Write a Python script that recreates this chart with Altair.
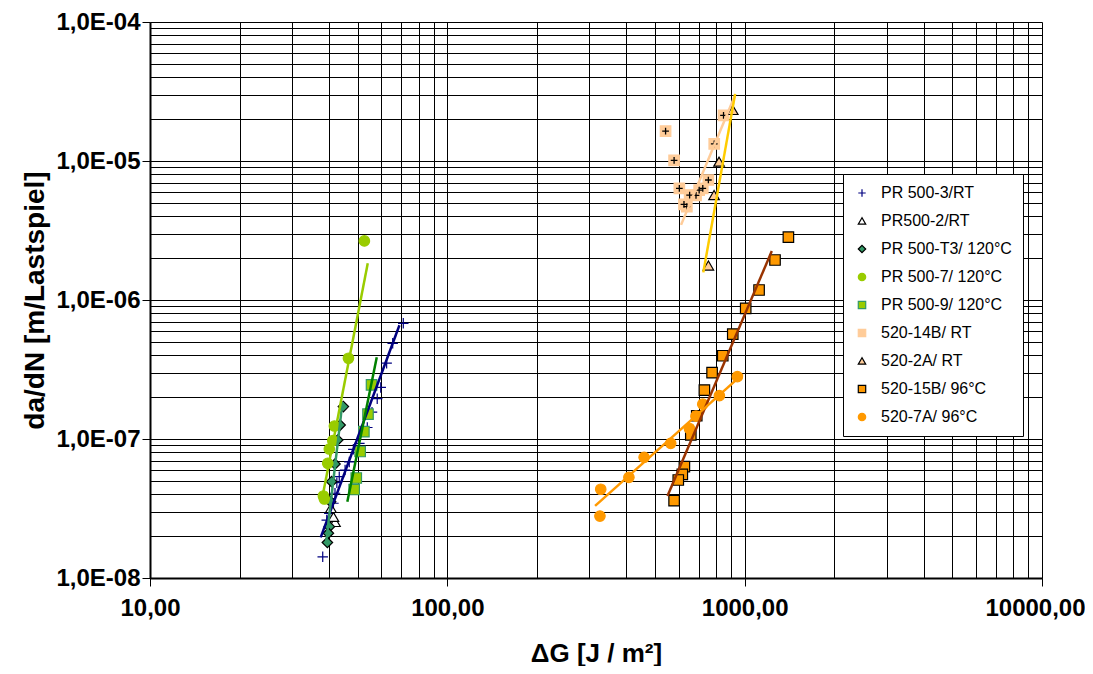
import altair as alt
import pandas as pd

# ---------------- data ----------------
series_names = ["PR 500-3/RT", "PR500-2/RT", "PR 500-T3/ 120°C", "PR 500-7/ 120°C",
                "PR 500-9/ 120°C", "520-14B/ RT", "520-2A/ RT", "520-15B/ 96°C", "520-7A/ 96°C"]

pr500_3_x = [71.1, 65.5, 62.5, 59.7, 58.1, 55.8, 53.8, 50.6, 48.3, 46.8, 45.3, 43.3, 42.5, 41.9, 41.4, 40.1, 39.3, 38.1]
pr500_3_y = [6.8e-7, 4.88e-7, 3.51e-7, 2.35e-7, 1.95e-7, 1.56e-7, 1.21e-7, 9.3e-8, 8.43e-8, 6.84e-8,
             5.98e-8, 5.36e-8, 4.85e-8, 4.07e-8, 3.45e-8, 2.92e-8, 2.61e-8, 1.42e-8]

pr500_2_x = [41.9, 41.4, 40.6]
pr500_2_y = [2.53e-8, 2.75e-8, 3.19e-8]

pr500_t3_x = [44.7, 43.6, 42.8, 41.9, 40.8, 40.5, 40.1, 39.8, 39.5]
pr500_t3_y = [1.71e-7, 1.26e-7, 9.84e-8, 6.61e-8, 4.93e-8, 3.54e-8, 2.34e-8, 2.10e-8, 1.80e-8]

pr500_7_x = [52.6, 46.5, 41.7, 41.2, 40.1, 39.6, 38.3, 38.6]
pr500_7_y = [2.66e-6, 3.81e-7, 1.24e-7, 9.72e-8, 8.47e-8, 6.69e-8, 3.89e-8, 3.70e-8]

pr500_9_x = [55.6, 54.1, 52.4, 50.9, 49.4, 48.6]
pr500_9_y = [2.45e-7, 1.51e-7, 1.13e-7, 8.13e-8, 5.24e-8, 4.33e-8]

s520_14b_x = [542, 579, 603, 653, 625, 639, 686, 703, 723, 755, 790, 849]
s520_14b_y = [1.64e-5, 1.01e-5, 6.36e-6, 5.69e-6, 4.88e-6, 4.69e-6, 5.65e-6, 6.18e-6, 6.36e-6, 7.30e-6, 1.33e-5, 2.13e-5]

s520_2a_x = [912, 820, 789, 755]
s520_2a_y = [2.33e-5, 9.89e-6, 5.69e-6, 1.77e-6]

s520_15b_x = [1403, 1265, 1118, 1008, 912, 844, 777, 732, 690, 659, 627, 617, 598, 579]
s520_15b_y = [2.83e-6, 1.94e-6, 1.18e-6, 8.71e-7, 5.69e-7, 3.97e-7, 3.00e-7, 2.25e-7, 1.47e-7, 1.07e-7,
              6.32e-8, 5.57e-8, 5.07e-8, 3.60e-8]

s520_7a_x = [945, 822, 723, 686, 652, 564, 459, 408, 328, 326]
s520_7a_y = [2.81e-7, 2.05e-7, 1.78e-7, 1.46e-7, 1.19e-7, 9.31e-8, 7.39e-8, 5.30e-8, 4.35e-8, 2.79e-8]

# trend lines (power fits as drawn in the picture): start/end points
trend_names = ["PR 500-3/RT", "PR 500-T3/ 120°C", "PR 500-7/ 120°C", "PR 500-9/ 120°C",
               "520-14B/ RT", "520-2A/ RT", "520-15B/ 96°C", "520-7A/ 96°C"]
trend_x_start = [37.5, 39.1, 37.8, 46.1, 611, 726, 550, 314]
trend_x_end = [69.0, 44.4, 54.0, 57.9, 926, 929, 1234, 985]
trend_y_start = [1.96e-8, 1.79e-8, 3.59e-8, 3.54e-8, 3.47e-6, 1.58e-6, 3.89e-8, 3.30e-8]
trend_y_end = [6.58e-7, 1.85e-7, 1.84e-6, 3.87e-7, 2.94e-5, 3.04e-5, 2.25e-6, 2.93e-7]

# ---------------- styles ----------------
PLUS = "M-1,0H1M0,-1V1"
marker_shapes = [PLUS, "triangle-up", "diamond", "circle", "square", "square", "triangle-up", "square", "circle"]
marker_fills = ["#000080", "#FFFFFF", "#339966", "#99CC00", "#99CC00", "#FFCC99", "#FFCC99", "#FF9900", "#FF9900"]
marker_strokes = ["#000080", "#000000", "#000000", "#99CC00", "#339966", "#FFCC99", "#000000", "#000000", "#FF9900"]
trend_colors = ["#000080", "#339966", "#99CC00", "#008000", "#FFCC99", "#FFCC00", "#993300", "#FF9900"]

FONT = "Liberation Sans, Arial, sans-serif"

# ---------------- tables ----------------
xs = [pr500_3_x, pr500_2_x, pr500_t3_x, pr500_7_x, pr500_9_x, s520_14b_x, s520_2a_x, s520_15b_x, s520_7a_x]
ys = [pr500_3_y, pr500_2_y, pr500_t3_y, pr500_7_y, pr500_9_y, s520_14b_y, s520_2a_y, s520_15b_y, s520_7a_y]
rows = []
for name, xv, yv in zip(series_names, xs, ys):
    for a, b in zip(xv, yv):
        rows.append({"serie": name, "dG": a, "dadN": b})
points = pd.DataFrame(rows)

trows = []
for name, x0, x1, y0, y1 in zip(trend_names, trend_x_start, trend_x_end, trend_y_start, trend_y_end):
    trows.append({"trend": name, "dG": x0, "dadN": y0, "o": 0})
    trows.append({"trend": name, "dG": x1, "dadN": y1, "o": 1})
trends = pd.DataFrame(trows)

x_ticks = [m * 10 ** e for e in range(1, 4) for m in range(1, 10)] + [10000]
y_ticks = [m * 10.0 ** e for e in range(-8, -4) for m in range(1, 10)] + [1e-4]

decade = "abs(log(datum.value)/LN10 - round(log(datum.value)/LN10)) < 1e-6"

x_axis = alt.Axis(
    values=x_ticks, grid=True, gridColor="black", gridWidth=1, gridOpacity=1,
    labelExpr=f"({decade}) ? replace(format(datum.value, '.2f'), '.', ',') : ''",
    labelFont=FONT, labelFontSize=24, labelFontWeight="bold", labelColor="black",
    labelPadding=10, labelFlush=False, labelOverlap=False,
    labelOffset={"condition": {"test": "datum.value > 9999", "value": -7}, "value": 0},
    tickColor="black", tickSize=8, tickWidth=1,
    tickOpacity={"condition": {"test": decade, "value": 1}, "value": 0},
    domainColor="black", domainWidth=2,
    titleFont=FONT, titleFontSize=26, titleFontWeight="bold", titleColor="black", titlePadding=20,
)
y_axis = alt.Axis(
    values=y_ticks, grid=True, gridColor="black", gridWidth=1, gridOpacity=1,
    labelExpr=f"({decade}) ? '1,0E-0' + format(-round(log(datum.value)/LN10), 'd') : ''",
    labelFont=FONT, labelFontSize=24, labelFontWeight="bold", labelColor="black",
    labelPadding=2, labelFlush=False, labelOverlap=False,
    tickColor="black", tickSize=8, tickWidth=1,
    tickOpacity={"condition": {"test": decade, "value": 1}, "value": 0},
    domainColor="black", domainWidth=2,
    titleFont=FONT, titleFontSize=28, titleFontWeight="bold", titleColor="black", titlePadding=6,
)

x_enc = alt.X("dG:Q", scale=alt.Scale(type="log", domain=[10, 10000], nice=False),
              axis=x_axis, title="ΔG [J / m²]")
y_enc = alt.Y("dadN:Q", scale=alt.Scale(type="log", domain=[1e-8, 1e-4], nice=False),
              axis=y_axis, title="da/dN [m/Lastspiel]")

leg = alt.Legend(
    orient="none", legendX=693, legendY=152,
    fillColor="white", strokeColor="black", padding=11,
    labelFont=FONT, labelFontSize=16, labelColor="black", labelLimit=300,
    symbolSize=55, symbolStrokeWidth=1.2, rowPadding=12, labelOffset=11,
)

pts = alt.Chart(points).mark_point(filled=True, size=110, strokeWidth=1.2, opacity=1).encode(
    x=x_enc, y=y_enc,
    fill=alt.Fill("serie:N", scale=alt.Scale(domain=series_names, range=marker_fills), legend=leg, title=None),
    stroke=alt.Stroke("serie:N", scale=alt.Scale(domain=series_names, range=marker_strokes), legend=leg, title=None),
    shape=alt.Shape("serie:N", scale=alt.Scale(domain=series_names, range=marker_shapes), legend=leg, title=None),
)

plus_overlay = alt.Chart(points).transform_filter(
    alt.datum.serie == "520-14B/ RT"
).mark_point(shape=PLUS, size=45, stroke="black", strokeWidth=1.3, opacity=1).encode(x=x_enc, y=y_enc)

lines = alt.Chart(trends).mark_line(strokeWidth=2.5).encode(
    x=x_enc, y=y_enc, order="o:Q",
    color=alt.Color("trend:N", scale=alt.Scale(domain=trend_names, range=trend_colors), legend=None),
)

chart = alt.layer(pts, plus_overlay, lines).properties(
    width=892, height=556, autosize="none",
    padding={"left": 142, "top": 14, "right": 43, "bottom": 88},
).configure_view(stroke="black", strokeWidth=1).configure(background="white")

chart.save("out.html", embed_options={"renderer": "svg", "actions": False})
